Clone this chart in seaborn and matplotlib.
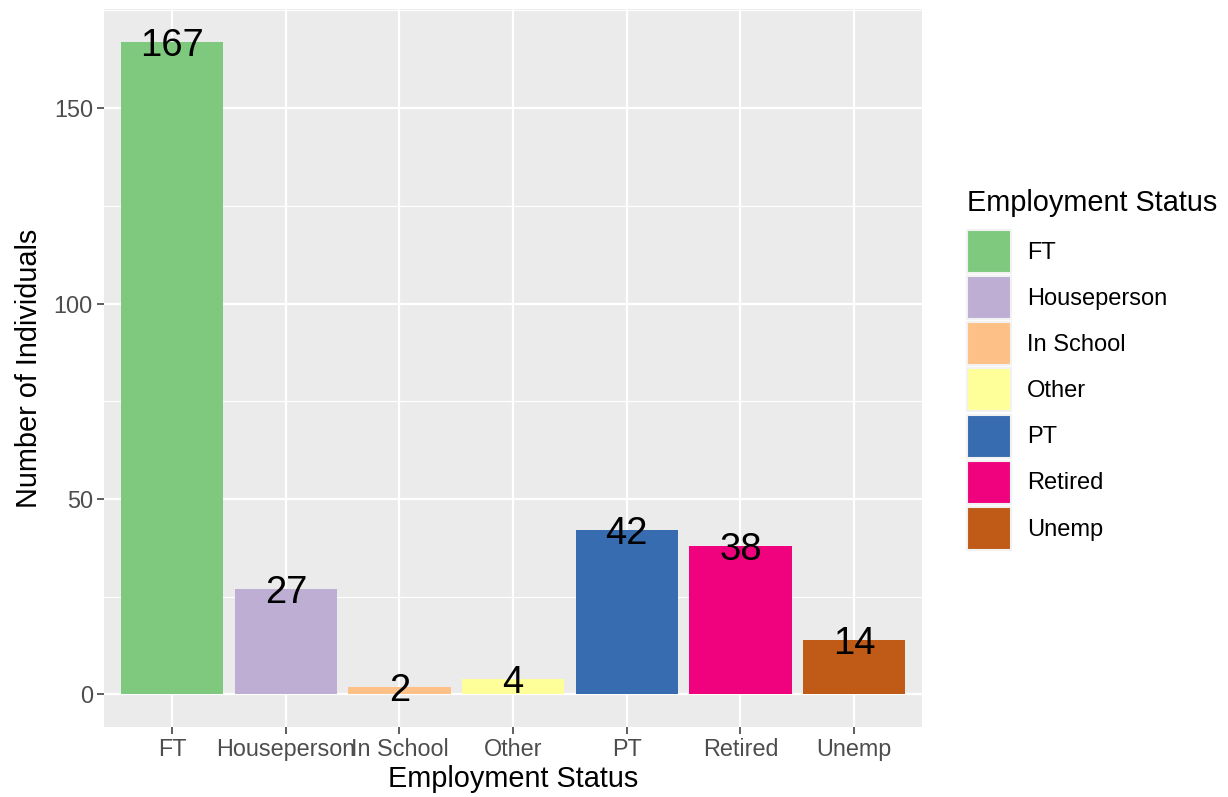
import matplotlib
matplotlib.use("Agg")
import matplotlib.pyplot as plt
import seaborn as sns
import pandas as pd
from matplotlib.patches import Patch
from matplotlib.ticker import MultipleLocator

# data
status = ["FT", "Houseperson", "In School", "Other", "PT", "Retired", "Unemp"]
counts = [167, 27, 2, 4, 42, 38, 14]
colors = sns.color_palette("Accent", len(status))

df = pd.DataFrame({"Employment Status": status, "Count": counts})

sns.set_theme(style="darkgrid")
plt.rcParams["font.family"] = ["Liberation Sans", "DejaVu Sans"]

fig = plt.figure(figsize=(12.28, 7.97), dpi=100)
ax = fig.add_axes([0.0847, 0.0878, 0.6663, 0.9009])
ax.set_facecolor("#EBEBEB")

sns.barplot(data=df, x="Employment Status", y="Count", hue="Employment Status",
            palette=colors, saturation=1, width=0.9, linewidth=0,
            legend=False, ax=ax)

# count labels centred on top of each bar
for p, v in zip(ax.patches, counts):
    ax.text(p.get_x() + p.get_width() / 2, p.get_height(), str(v),
            ha="center", va="center_baseline", fontsize=27.5, color="black")

ax.set_xlim(-0.6, len(status) - 0.4)
ax.set_ylim(-0.05 * max(counts), 1.05 * max(counts))
ax.set_yticks([0, 50, 100, 150])
ax.yaxis.set_minor_locator(MultipleLocator(25))

ax.grid(which="major", color="white", linewidth=1.6)
ax.grid(which="minor", axis="y", color="white", linewidth=0.8)
ax.set_axisbelow(True)
for s in ax.spines.values():
    s.set_visible(False)

ax.tick_params(axis="both", which="major", length=5, width=1.1, color="#333333",
               labelsize=16.8, labelcolor="#4D4D4D", pad=3, bottom=True, left=True)
ax.tick_params(axis="both", which="minor", length=0)

ax.set_xlabel("Employment Status", fontsize=20.8, color="black", labelpad=3)
ax.set_ylabel("Number of Individuals", fontsize=20.8, color="black", labelpad=8)

handles = [Patch(facecolor=c, edgecolor="#F2F2F2", linewidth=1.5) for c in colors]
leg = fig.legend(handles, status, title="Employment Status", loc="upper left",
                 bbox_to_anchor=(0.7795, 0.775), frameon=False, fontsize=17,
                 title_fontsize=20.8, handlelength=1.86, handleheight=2.43,
                 labelspacing=0.13, handletextpad=0.68, borderaxespad=0,
                 alignment="left")
leg.get_title().set_color("black")
for t in leg.get_texts():
    t.set_color("black")
# a bit more room between legend title and keys
leg._legend_box.sep = 9.5

fig.savefig("out.png", dpi=100)
